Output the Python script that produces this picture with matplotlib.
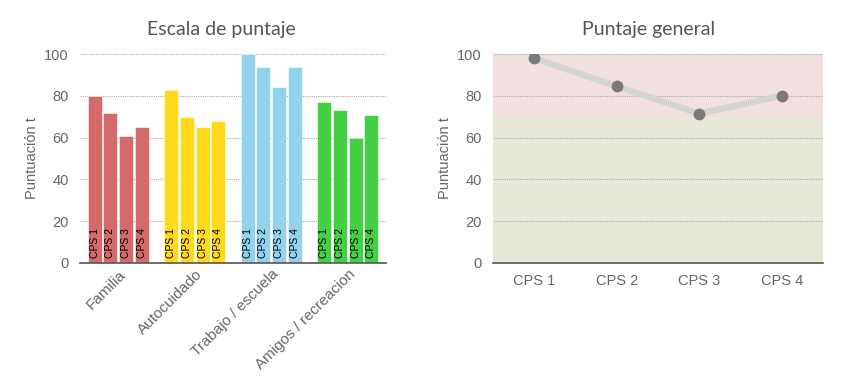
import matplotlib
matplotlib.use("Agg")
import matplotlib.pyplot as plt
import numpy as np

categories = ["Familia", "Autocuidado", "Trabajo / escuela", "Amigos / recreacion"]
series_labels = ["CPS 1", "CPS 2", "CPS 3", "CPS 4"]
familia = [80, 72, 61, 65]
autocuidado = [83, 70, 65, 68]
trabajo = [100, 94, 84, 94]
amigos = [77, 73, 60, 71]
general = [98, 84.5, 71.5, 80]
yticks = [0, 20, 40, 60, 80, 100]

group_values = [familia, autocuidado, trabajo, amigos]
group_colors = ["#d46a6a", "#ffd91a", "#93d2ec", "#45cf45"]
band_split = 70

plt.rcParams["font.family"] = ["Liberation Sans", "DejaVu Sans"]

W, H = 843, 383
fig = plt.figure(figsize=(W / 100, H / 100), dpi=100)

def ax_rect(x0, y0, x1, y1):
    return [x0 / W, 1 - y1 / H, (x1 - x0) / W, (y1 - y0) / H]

title_font = dict(family="Lato", fontsize=14, color="#555555")
tick_color = "#666666"

def style(ax):
    ax.set_ylim(0, 100)
    ax.set_yticks(yticks)
    for s in ["top", "right", "left"]:
        ax.spines[s].set_visible(False)
    ax.spines["bottom"].set_color("#555555")
    ax.spines["bottom"].set_linewidth(1.2)
    ax.tick_params(axis="both", length=0, colors=tick_color, labelsize=10.5)
    ax.tick_params(axis="y", pad=8)
    ax.yaxis.grid(True, linestyle=(0, (1, 1)), color="#aaaaaa", linewidth=0.8)
    ax.set_axisbelow(True)
    ax.set_ylabel("Puntuación t", fontsize=10.5, color="#666666", labelpad=4)

# Left chart
ax1 = fig.add_axes(ax_rect(80, 54, 386, 263))
x = np.arange(len(categories))
bw = 0.205
for gi, (vals, col) in enumerate(zip(group_values, group_colors)):
    for si, v in enumerate(vals):
        xpos = x[gi] + (si - 1.5) * bw
        ax1.bar(xpos, v, width=bw * 0.9, color=col, edgecolor="#ffffff", linewidth=0.4, zorder=2)
        ax1.text(xpos, 2.2, series_labels[si], rotation=90, ha="center", va="bottom",
                 fontsize=7.5, color="#000000", zorder=3)
ax1.set_xlim(-0.5, len(categories) - 0.5)
ax1.set_xticks(x)
ax1.set_xticklabels(categories, rotation=45, ha="right", rotation_mode="anchor")
style(ax1)
ax1.tick_params(axis="x", pad=3, labelsize=11)
ax1.set_title("Escala de puntaje", pad=14, x=0.461, **title_font)

# Right chart
ax2 = fig.add_axes(ax_rect(493, 54, 823, 263))
ax2.axhspan(band_split, 100, color="#f2dfdf", zorder=0, linewidth=0)
ax2.axhspan(0, band_split, color="#e8e8d8", zorder=0, linewidth=0)
xp = np.arange(len(series_labels))
ax2.plot(xp, general, color="#d3d3d3", linewidth=4.5, zorder=3, solid_capstyle="round")
ax2.plot(xp, general, "o", color="#7a7a7a", markersize=7.5, zorder=4)
ax2.set_xlim(-0.5, len(series_labels) - 0.5)
ax2.set_xticks(xp)
ax2.set_xticklabels(series_labels)
style(ax2)
ax2.tick_params(axis="x", pad=8)
ax2.set_title("Puntaje general", pad=14, x=0.47, **title_font)

fig.savefig("out.png", dpi=100, facecolor="white")
